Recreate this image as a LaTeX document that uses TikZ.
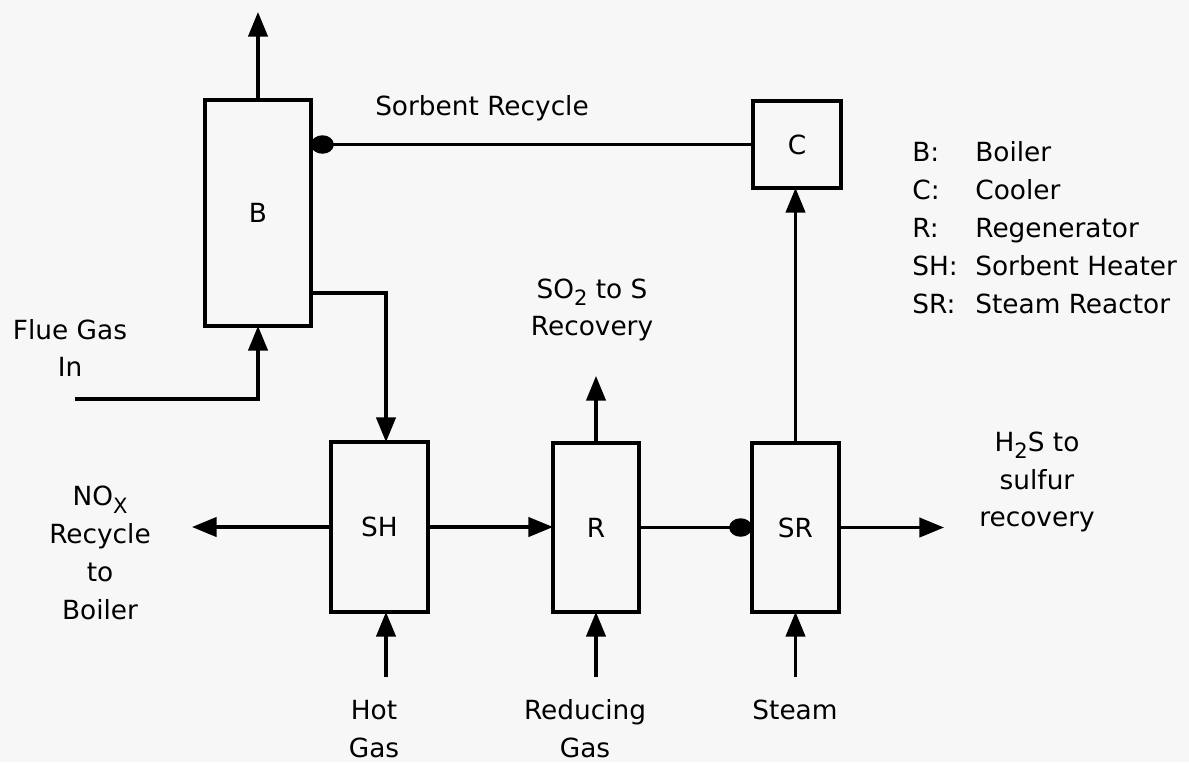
\documentclass[tikz,border=0pt]{standalone}
\usepackage{fontspec}
\setmainfont{DejaVu Sans}
\usetikzlibrary{arrows.meta}
\newcommand{\lowsub}[1]{\raisebox{-0.5ex}{\fontsize{12}{12}\selectfont #1}}
\begin{document}
\begin{tikzpicture}[x=0.02cm,y=-0.02cm,
 unit/.style={draw,line width=2.2pt,inner sep=0pt,outer sep=0pt,font=\fontsize{15}{21.5}\selectfont},
 flow/.style={line width=1.8pt,-{Triangle[length=14pt,width=11pt]}},
 dotflow/.style={line width=1.8pt,-{Circle[length=13pt,width=10.5pt]}},
 lbl/.style={align=center,inner sep=0pt,font=\fontsize{15}{21.5}\selectfont},
 key/.style={anchor=base west,inner sep=0pt,font=\fontsize{15}{21.5}\selectfont},
]
\fill[white!97!black] (0,0) rectangle (1189,762);
\useasboundingbox (0,0) rectangle (1189,762);

% units
\node[unit,minimum width=2.12cm,minimum height=4.52cm] (B) at (258,213) {B};
\node[unit,minimum width=1.94cm,minimum height=3.40cm] (SH) at (379.5,527) {SH};
\node[unit,minimum width=1.72cm,minimum height=3.38cm] (R) at (596,527.5) {R};
\node[unit,minimum width=1.74cm,minimum height=3.38cm] (SR) at (795.5,527.5) {SR};
\node[unit,minimum width=1.76cm,minimum height=1.74cm] (C) at (797,144.5) {C};

% free ends
\coordinate (Btop) at (258,12);
\coordinate (bout) at (311,293);
\coordinate (bend) at (386,293);
\coordinate (flue) at (75,399);
\coordinate (noxend) at (192,527);
\coordinate (hotin) at (386,677);
\coordinate (so2end) at (596,376);
\coordinate (redin) at (596,677);
\coordinate (steamin) at (795.5,677);
\coordinate (h2send) at (944,527.5);

% connectors
\draw[flow] (B.north) -- (Btop);
\draw[dotflow] (C.west) -- (B.east |- C.west);
\draw[flow] (bout) -- (bend) -- (bend |- SH.north);
\draw[flow] (flue) -- (flue -| B.south) -- (B.south);
\draw[flow] (SH.west) -- (noxend);
\draw[flow] (hotin) -- (hotin |- SH.south);
\draw[flow] (SH.east) -- (SH.east -| R.west);
\draw[flow] (R.north) -- (so2end);
\draw[flow] (redin) -- (R.south);
\draw[dotflow] (R.east) -- (SR.west);
\draw[flow] (SR.north) -- (SR.north |- C.south);
\draw[flow] (SR.east) -- (h2send);
\draw[flow] (steamin) -- (SR.south);

% labels
\node[lbl] (sorb) at (482,108) {Sorbent Recycle};
\node[lbl] (flueT) at (70,348) {Flue Gas\\In};
\node[lbl] (noxT) at (100,553) {NO\lowsub{X}\\Recycle\\to\\Boiler};
\node[lbl] (hotT) at (374,729) {Hot\\Gas};
\node[lbl] (redT) at (585,729) {Reducing\\Gas};
\node[lbl] (steamT) at (795,710) {Steam};
\node[lbl] (so2T) at (592,310) {SO\lowsub{2} to S\\Recovery};
\node[lbl] (h2sT) at (1037,482) {H\lowsub{2}S to\\sulfur\\recovery};

% legend
\node[key] (k1) at (912,161) {B:};
\node[key] (d1) at (975,161) {Boiler};
\node[key] (k2) at (912,199) {C:};
\node[key] (d2) at (975,199) {Cooler};
\node[key] (k3) at (912,237) {R:};
\node[key] (d3) at (975,237) {Regenerator};
\node[key] (k4) at (912,275) {SH:};
\node[key] (d4) at (975,275) {Sorbent Heater};
\node[key] (k5) at (912,313) {SR:};
\node[key] (d5) at (975,313) {Steam Reactor};
\end{tikzpicture}
\end{document}
